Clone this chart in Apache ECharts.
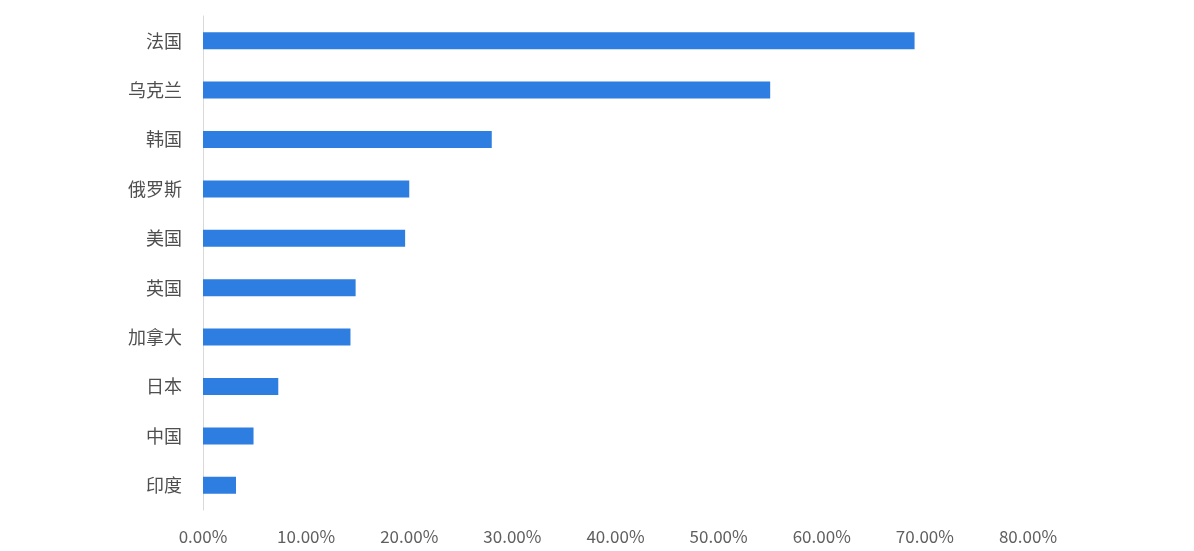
<!DOCTYPE html>
<html>
<head>
<meta charset="utf-8">
<script src="https://cdn.jsdelivr.net/npm/echarts@6/dist/echarts.min.js"></script>
<style>html,body{margin:0;padding:0;background:#fff;}#c{width:1194px;height:551px;}</style>
</head>
<body>
<div id="c"></div>
<script>
const categories = ['法国','乌克兰','韩国','俄罗斯','美国','英国','加拿大','日本','中国','印度'];
const values = [69.0, 55.0, 28.0, 20.0, 19.6, 14.8, 14.3, 7.3, 4.9, 3.2];
const xTicks = [0, 10, 20, 30, 40, 50, 60, 70, 80];

const chart = echarts.init(document.getElementById('c'));
chart.setOption({
  animation: false,
  backgroundColor: '#ffffff',
  grid: { left: 203, right: 166, top: 16, bottom: 41, containLabel: false },
  xAxis: {
    type: 'value', min: xTicks[0], max: xTicks[xTicks.length - 1], interval: 10,
    axisLine: { show: false }, axisTick: { show: false },
    splitLine: { show: false },
    axisLabel: { color: '#5f5f5f', fontSize: 17, margin: 18,
      fontFamily: 'Noto Sans CJK SC, sans-serif',
      formatter: v => v.toFixed(2) + '%' }
  },
  yAxis: {
    type: 'category', data: categories, inverse: true,
    axisLine: { show: true, lineStyle: { color: '#d9d9d9', width: 1 } },
    axisTick: { show: false },
    axisLabel: { color: '#4f4f4f', fontSize: 18, margin: 21,
      fontFamily: 'Noto Sans CJK SC, sans-serif' }
  },
  series: [{
    type: 'bar', data: values, barWidth: 17,
    itemStyle: { color: '#2e7de0' }
  }]
});
</script>
</body>
</html>
